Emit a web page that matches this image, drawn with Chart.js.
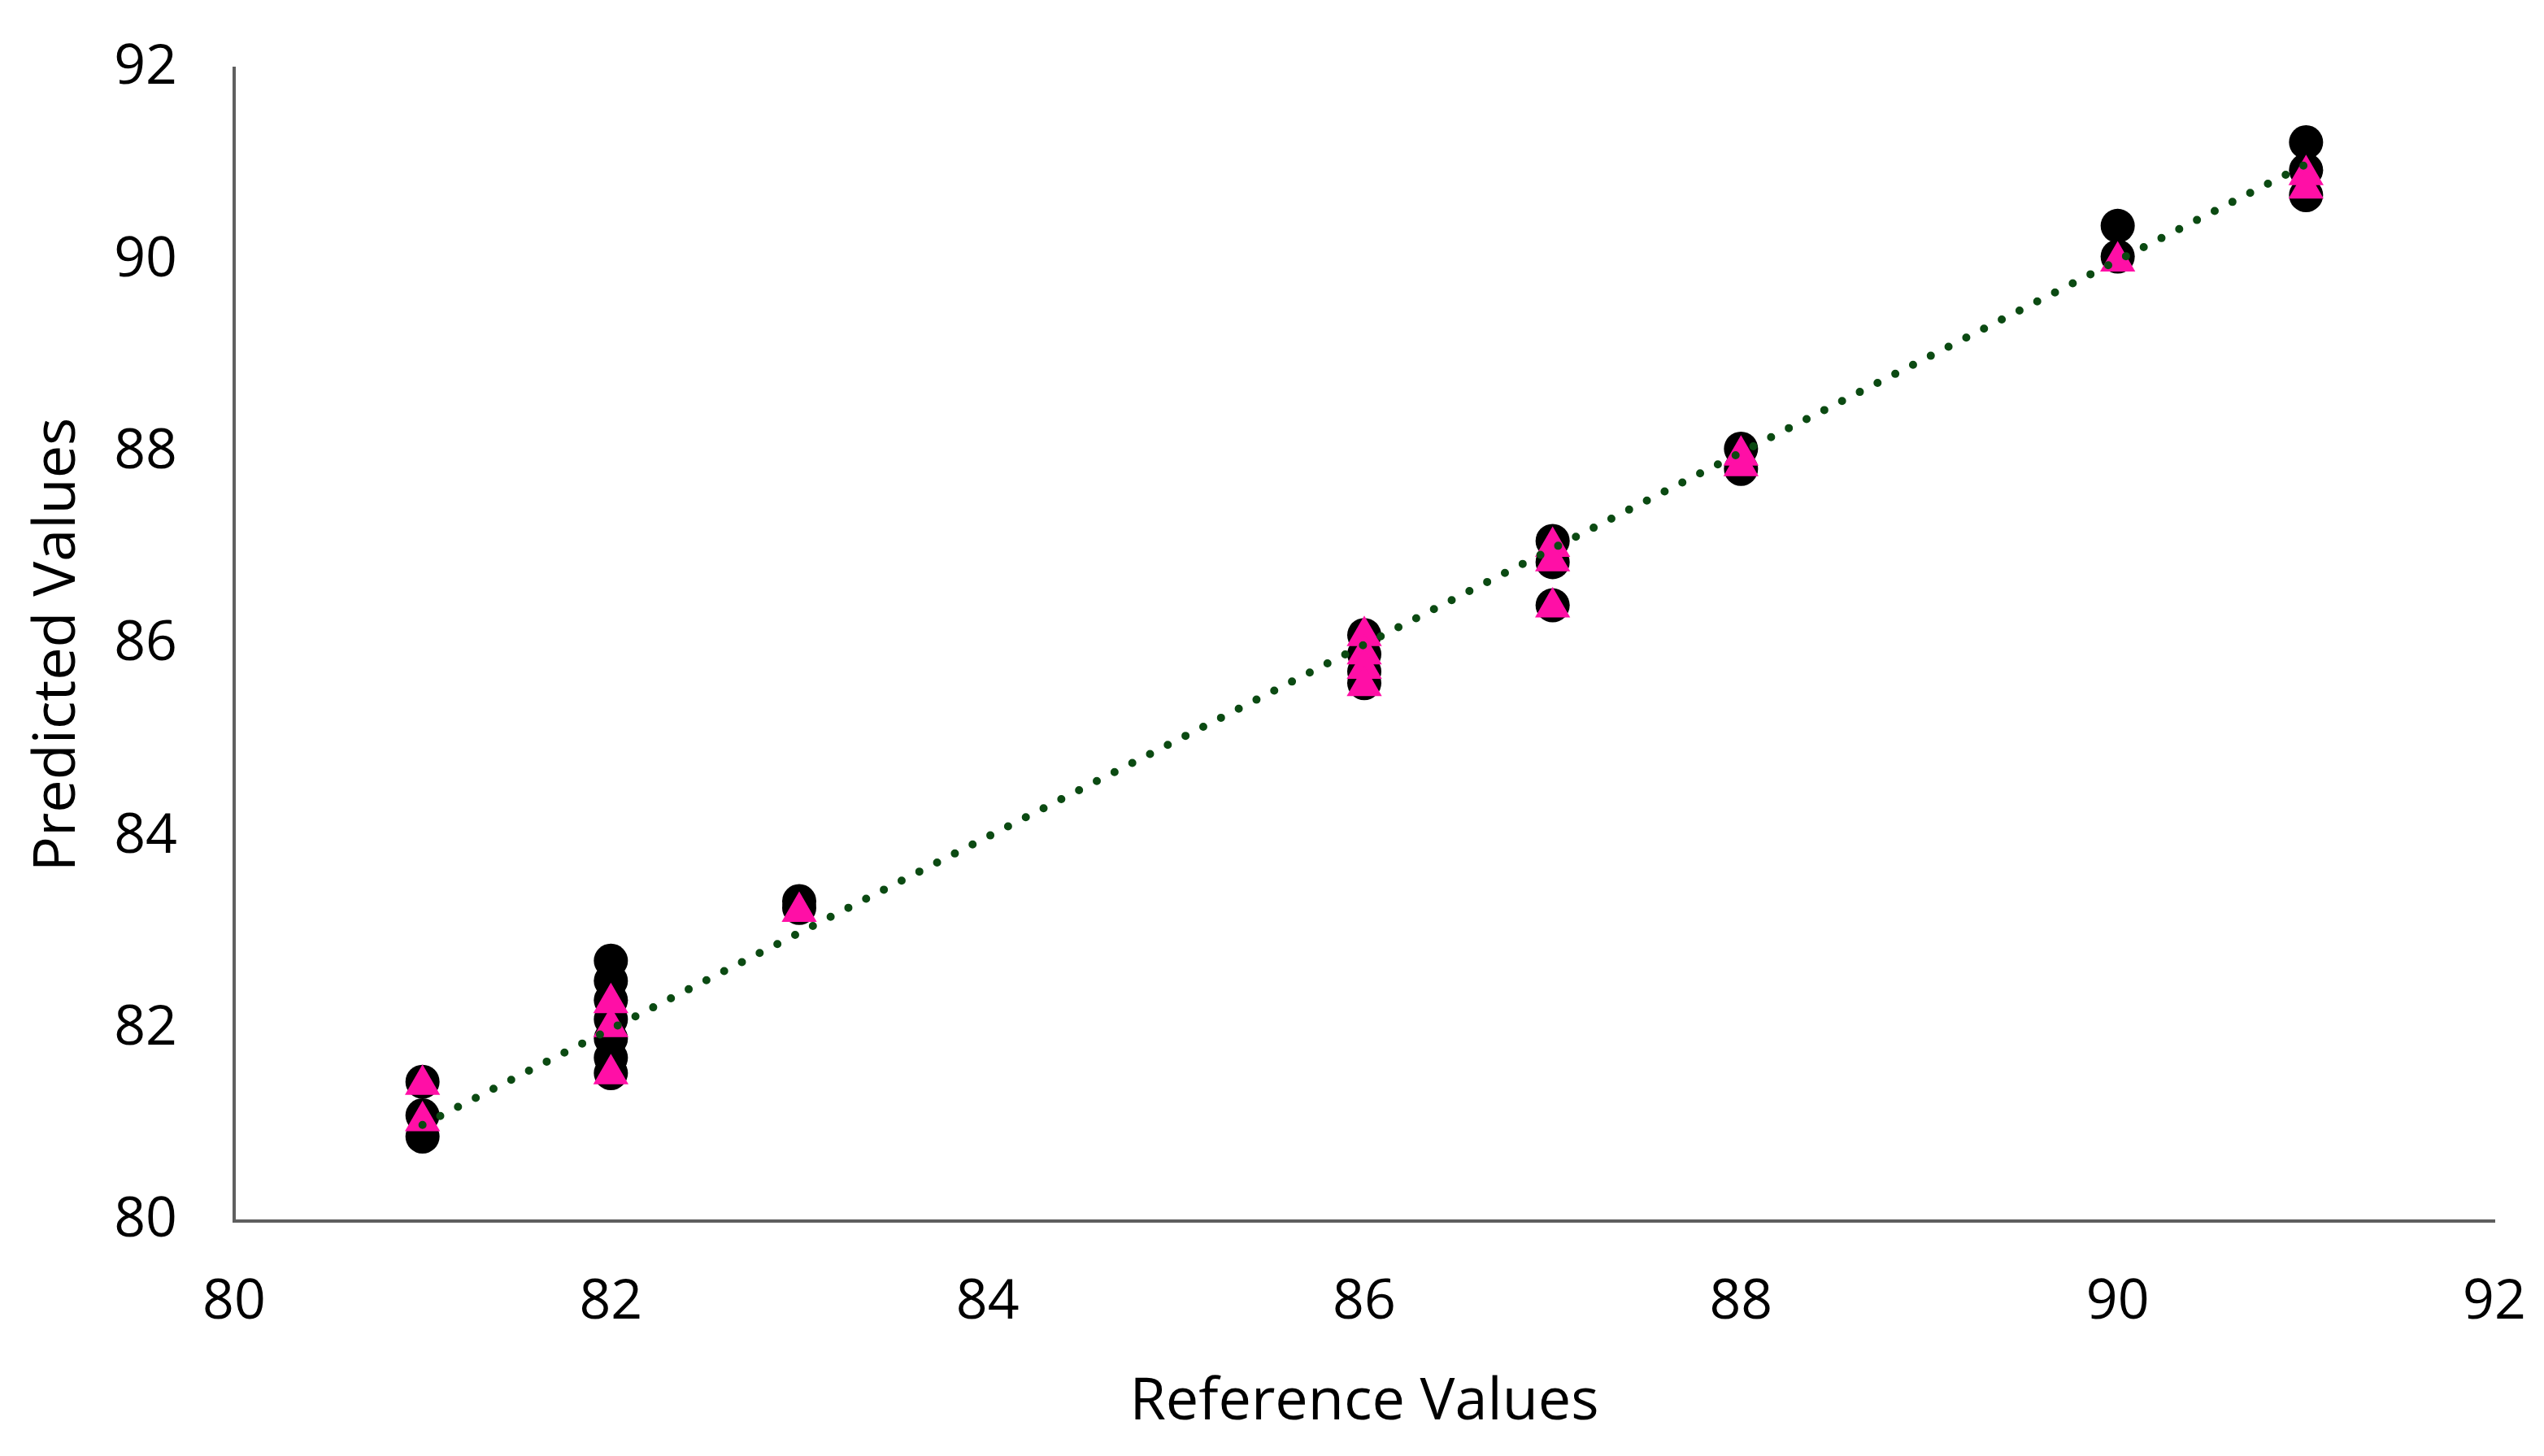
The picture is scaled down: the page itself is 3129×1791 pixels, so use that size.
<!DOCTYPE html>
<html>
<head>
<meta charset="utf-8">
<script src="https://cdn.jsdelivr.net/npm/chart.js@4/dist/chart.umd.min.js"></script>
<style>
  body { margin: 0; background: #fff; }
  #wrap { width: 3129px; height: 1791px; }
</style>
</head>
<body>
<div id="wrap"><canvas id="myChart" width="3129" height="1791"></canvas></div>
<script>
// reference (x) values and predicted values
const blackX = [81, 81, 81, 82, 82, 82, 82, 82, 82, 82, 83, 83, 86, 86, 86, 86, 87, 87, 87, 88, 88, 90, 90, 91, 91, 91];
const blackY = [81.45, 81.1, 80.88, 82.71, 82.5, 82.3, 82.1, 81.9, 81.7, 81.54, 83.33, 83.26, 86.1, 85.9, 85.72, 85.6, 87.08, 86.86, 86.41, 88.04, 87.83, 90.36, 90.04, 91.23, 90.94, 90.68];

const pinkX = [81, 81, 82, 82, 82, 83, 86, 86, 86, 86, 87, 87, 87, 88, 88, 90, 91, 91];
const pinkY = [81.42, 81.04, 82.27, 82.02, 81.53, 83.22, 86.09, 85.9, 85.75, 85.57, 87.02, 86.87, 86.39, 87.97, 87.86, 89.99, 90.89, 90.75];

const lineX = [81, 91];
const lineY = [81, 91];

const axisMin = 80;
const axisMax = 92;
const axisStep = 2;

function toPairs(x, y) {
    const data = [];
    for (let i = 0; i < x.length; i++) {
        data.push({ x: x[i], y: y[i] });
    }
    return data;
}

// keep the plot box where the reference has it
function noOverflow(scale) {
    scale.paddingTop = 0;
    scale.paddingBottom = 0;
    scale.paddingLeft = 0;
    scale.paddingRight = 0;
}

const fontName = "'Open Sans', sans-serif";

const ctx = document.getElementById('myChart');
new Chart(ctx, {
    type: 'scatter',
    data: {
        datasets: [
            {
                type: 'line',
                label: 'trend',
                data: toPairs(lineX, lineY),
                borderColor: '#0b4a12',
                borderWidth: 10,
                borderDash: [0, 24.5],
                borderCapStyle: 'round',
                pointRadius: 0,
                fill: false,
                order: 0
            },
            {
                label: 'pink',
                data: toPairs(pinkX, pinkY),
                pointStyle: 'triangle',
                pointRadius: 25,
                backgroundColor: '#ff0fa6',
                borderColor: '#ff0fa6',
                borderWidth: 0,
                order: 1
            },
            {
                label: 'black',
                data: toPairs(blackX, blackY),
                pointStyle: 'circle',
                pointRadius: 21,
                backgroundColor: '#000',
                borderColor: '#000',
                borderWidth: 0,
                order: 2
            }
        ]
    },
    options: {
        responsive: false,
        devicePixelRatio: 1,
        animation: false,
        layout: { padding: { top: 84, right: 61, left: 0, bottom: 0 } },
        plugins: {
            legend: { display: false },
            tooltip: { enabled: false }
        },
        scales: {
            x: {
                min: axisMin,
                max: axisMax,
                ticks: { stepSize: axisStep, color: '#000', padding: 60, font: { family: fontName, size: 68 } },
                grid: { display: false, drawTicks: false },
                border: { color: '#5f5f5f', width: 4 },
                title: { display: true, text: 'Reference Values', color: '#000', font: { family: fontName, size: 72 }, padding: { top: 0, bottom: 22 } },
                afterFit: function (scale) { scale.height = 289; noOverflow(scale); }
            },
            y: {
                min: axisMin,
                max: axisMax,
                ticks: { stepSize: axisStep, color: '#000', padding: 70, font: { family: fontName, size: 68 } },
                grid: { display: false, drawTicks: false },
                border: { color: '#5f5f5f', width: 4 },
                title: { display: true, text: 'Predicted Values', color: '#000', font: { family: fontName, size: 72 }, padding: { top: 28, bottom: 0 } },
                afterFit: function (scale) { scale.width = 288; noOverflow(scale); }
            }
        }
    }
});
</script>
</body>
</html>
